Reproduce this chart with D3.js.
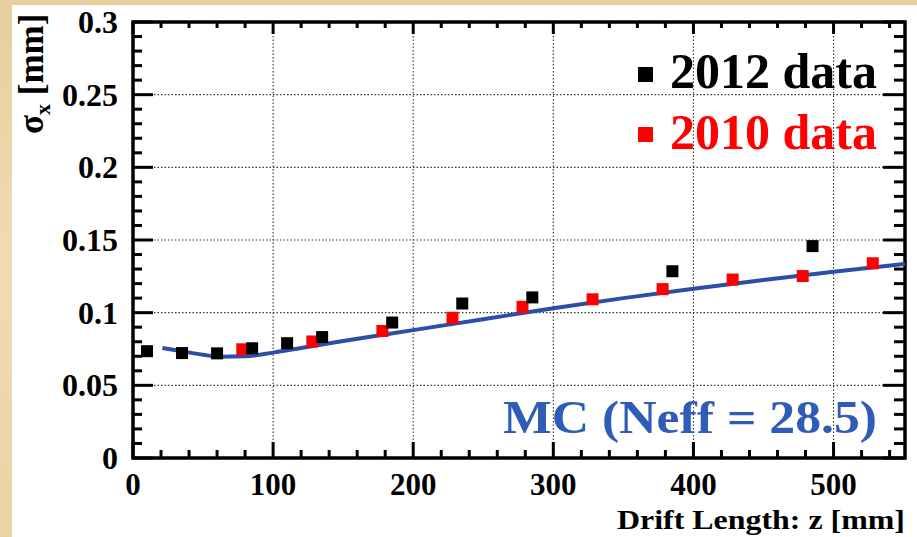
<!DOCTYPE html>
<html><head><meta charset="utf-8">
<script src="https://cdn.jsdelivr.net/npm/d3@7"></script>
<style>body{margin:0;background:#e9d4a5;} svg{display:block;}</style>
</head><body>
<script>
// ---- data ----
const z2012 = [10, 35, 60, 85, 110, 135, 185, 235, 285, 385, 485];
const s2012 = [0.0735, 0.0722, 0.0720, 0.0755, 0.0790, 0.0832, 0.0932, 0.1063, 0.1105, 0.1285, 0.1458];
const z2010 = [78, 128, 178, 228, 278, 328, 378, 428, 478, 528];
const s2010 = [0.0748, 0.0802, 0.0874, 0.0965, 0.1040, 0.1092, 0.1162, 0.1228, 0.1252, 0.1340];
const zMC = [21, 35, 50, 62, 80, 100, 120, 150, 200, 250, 300, 350, 400, 450, 500, 551];
const sMC = [0.0757, 0.0735, 0.0710, 0.0697, 0.0700, 0.0725, 0.0757, 0.0805, 0.0880, 0.0955, 0.1030, 0.1100, 0.1165, 0.1225, 0.1282, 0.1335];
const xTickVals = [0, 100, 200, 300, 400, 500];
const xTickLabels = ["0", "100", "200", "300", "400", "500"];
const yTickVals = [0, 0.05, 0.1, 0.15, 0.2, 0.25, 0.3];
const yTickLabels = ["0", "0.05", "0.1", "0.15", "0.2", "0.25", "0.3"];
const legendLabels = ["2012 data", "2010 data"];
const legendColors = ["#000000", "#ff0000"];
const mcLabel = "MC (Neff = 28.5)";

const W = 917, H = 537;
const L = 133, R = 905, T = 22, B = 458;
const svg = d3.select("body").append("svg").attr("width", W).attr("height", H);

// parchment background + white panel
const defs = svg.append("defs");
const g = defs.append("linearGradient").attr("id", "parch").attr("x1", 0).attr("y1", 0).attr("x2", 0).attr("y2", 1);
g.append("stop").attr("offset", "0%").attr("stop-color", "#e6cf9c");
g.append("stop").attr("offset", "50%").attr("stop-color", "#efdcb3");
g.append("stop").attr("offset", "100%").attr("stop-color", "#e8d3a3");
svg.append("rect").attr("width", W).attr("height", H).attr("fill", "url(#parch)");
svg.append("rect").attr("x", 12).attr("y", 5).attr("width", W - 12).attr("height", H - 5).attr("fill", "#ffffff");

const x = d3.scaleLinear().domain([0, 551]).range([L, R]);
const y = d3.scaleLinear().domain([0, 0.3]).range([B, T]);

defs.append("clipPath").attr("id", "clip").append("rect")
  .attr("x", L).attr("y", T).attr("width", R - L).attr("height", B - T);

// grid
const grid = svg.append("g").attr("stroke", "#333").attr("stroke-width", 1.1).attr("stroke-dasharray", "1.5,2");
xTickVals.filter(v => v > 0).forEach(v => {
  grid.append("line").attr("x1", x(v)).attr("x2", x(v)).attr("y1", T).attr("y2", B);
});
yTickVals.filter(v => v > 0 && v < 0.3).forEach(v => {
  grid.append("line").attr("x1", L).attr("x2", R).attr("y1", y(v)).attr("y2", y(v));
});

// ticks
const tk = svg.append("g").attr("stroke", "#000").attr("stroke-width", 3);
d3.range(0, 551, 20).forEach(v => {
  const major = v % 100 === 0;
  tk.append("line").attr("x1", x(v)).attr("x2", x(v)).attr("y1", B).attr("y2", B - (major ? 16 : 8));
  tk.append("line").attr("x1", x(v)).attr("x2", x(v)).attr("y1", T).attr("y2", T + (major ? 12 : 6));
});
d3.range(0, 31, 1).forEach(i => {
  const v = i / 100;
  const major = i % 5 === 0;
  tk.append("line").attr("x1", L).attr("x2", L + (major ? 20 : 9)).attr("y1", y(v)).attr("y2", y(v));
  tk.append("line").attr("x1", R).attr("x2", R - (major ? 22 : 11)).attr("y1", y(v)).attr("y2", y(v));
});

// frame
svg.append("rect").attr("x", L).attr("y", T).attr("width", R - L).attr("height", B - T)
  .attr("fill", "none").attr("stroke", "#000").attr("stroke-width", 3.5);

// tick labels
const font = "'Liberation Serif', 'Times New Roman', serif";
svg.append("g").selectAll("text").data(xTickVals).join("text")
  .attr("x", d => x(d)).attr("y", 495).attr("text-anchor", "middle")
  .attr("font-family", font).attr("font-weight", "bold").attr("font-size", 31)
  .text((d, i) => xTickLabels[i]);
svg.append("g").selectAll("text").data(yTickVals).join("text")
  .attr("x", 118).attr("y", d => y(d)).attr("dy", "0.34em").attr("text-anchor", "end")
  .attr("font-family", font).attr("font-weight", "bold").attr("font-size", 32)
  .text((d, i) => yTickLabels[i]);

// axis titles
svg.append("text").attr("x", 905).attr("y", 529).attr("text-anchor", "end")
  .attr("font-family", font).attr("font-weight", "bold").attr("font-size", 28)
  .attr("textLength", 288).attr("lengthAdjust", "spacingAndGlyphs")
  .text("Drift Length: z [mm]");
const yt = svg.append("text").attr("transform", "translate(43,134) rotate(-90)")
  .attr("font-family", font).attr("font-weight", "bold").attr("font-size", 35);
yt.append("tspan").text("σ");
yt.append("tspan").attr("font-size", 22).attr("dy", 7).text("x");
yt.append("tspan").attr("dy", -7).text(" [mm]");

// MC curve
const mcData = zMC.map((z, i) => [z, sMC[i]]);
svg.append("path").datum(mcData).attr("clip-path", "url(#clip)")
  .attr("fill", "none").attr("stroke", "#2b4fa6").attr("stroke-width", 4)
  .attr("d", d3.line().x(d => x(d[0])).y(d => y(d[1])).curve(d3.curveMonotoneX));

// markers
const ms = 12;
svg.append("g").selectAll("rect").data(z2010.map((z, i) => [z, s2010[i]])).join("rect")
  .attr("x", d => x(d[0]) - ms / 2).attr("y", d => y(d[1]) - ms / 2)
  .attr("width", ms).attr("height", ms).attr("fill", legendColors[1]);
svg.append("g").selectAll("rect").data(z2012.map((z, i) => [z, s2012[i]])).join("rect")
  .attr("x", d => x(d[0]) - ms / 2).attr("y", d => y(d[1]) - ms / 2)
  .attr("width", ms).attr("height", ms).attr("fill", legendColors[0]);

// legend
const legY = [74.5, 134.5], legBase = [88, 149];
legendLabels.forEach((lab, i) => {
  svg.append("rect").attr("x", 638).attr("y", legY[i] - 7.5).attr("width", 15).attr("height", 15)
    .attr("fill", legendColors[i]);
  svg.append("text").attr("x", 670).attr("y", legBase[i])
    .attr("font-family", font).attr("font-weight", "bold").attr("font-size", 50)
    .attr("fill", legendColors[i]).text(lab);
});

// MC label
svg.append("text").attr("x", 503).attr("y", 433)
  .attr("font-family", font).attr("font-weight", "bold").attr("font-size", 46)
  .attr("textLength", 374).attr("lengthAdjust", "spacingAndGlyphs")
  .attr("fill", "#2e5cb8").text(mcLabel);
</script>
</body></html>
